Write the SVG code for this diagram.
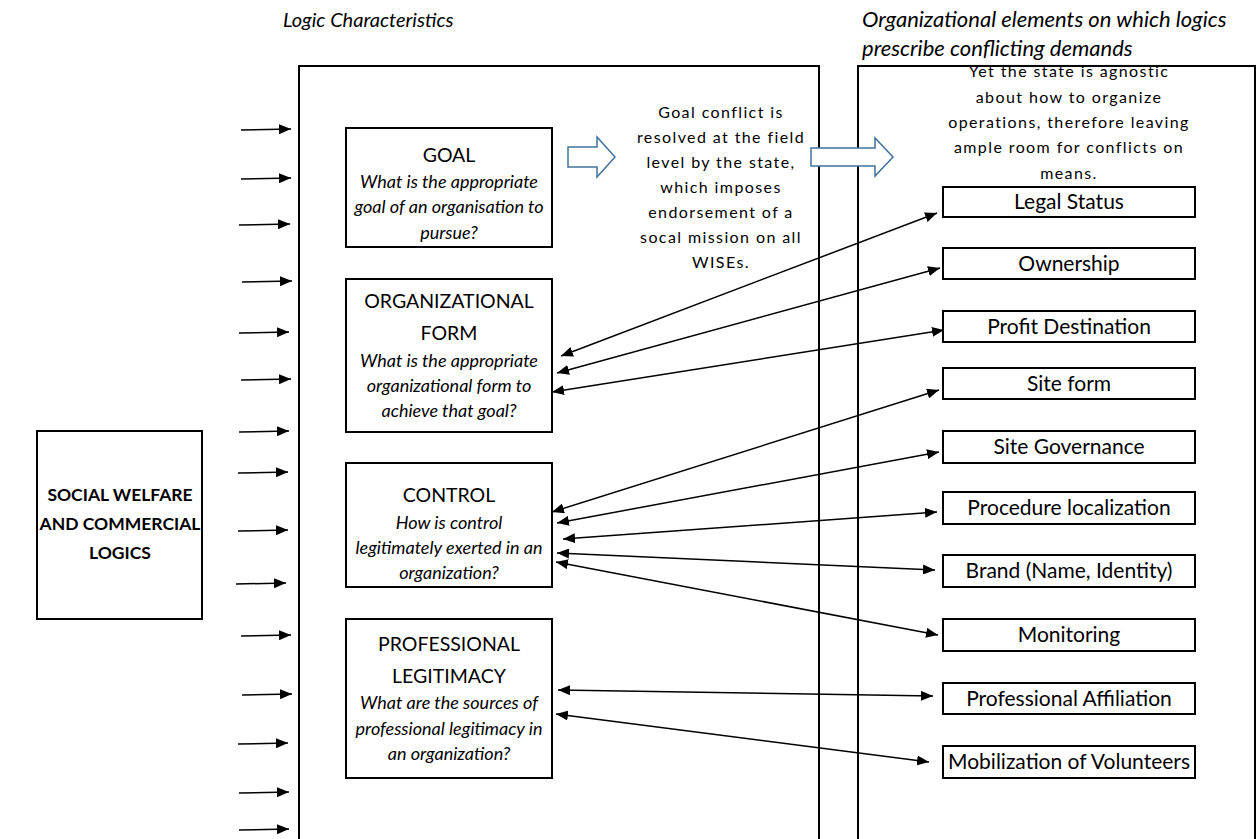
<svg xmlns="http://www.w3.org/2000/svg" width="1256" height="839" viewBox="0 0 1256 839">
<style>
text{font-family:Lato,"Liberation Sans",sans-serif;fill:#000}
.frame{fill:none;stroke:#000;stroke-width:2}
.box{fill:#fff;stroke:#000;stroke-width:2}
.head{font-style:italic}
.title{font-size:19.5px;text-anchor:middle}
.q{font-size:18px;font-style:italic;text-anchor:middle}
.el{font-size:21px;text-anchor:middle}
.note{font-size:16px;text-anchor:middle;letter-spacing:1.4px}
.in{stroke:#000;stroke-width:1.5;fill:none;marker-end:url(#ah)}
.dbl{stroke:#000;stroke-width:1.5;fill:none;marker-start:url(#ah);marker-end:url(#ah)}
.block{fill:#fff;stroke:#41719c;stroke-width:1.5}
</style>
<defs>
<marker id="ah" viewBox="0 0 12 10" markerWidth="12" markerHeight="10" markerUnits="userSpaceOnUse" refX="12" refY="5" orient="auto-start-reverse">
<path d="M0,0 L12,5 L0,10 z" fill="#000"/>
</marker>
</defs>
<rect width="1256" height="839" fill="#fff"/>

<g id="headings">
<text class="head" x="283" y="27" font-size="20">Logic Characteristics</text>
<text class="head" x="862" y="27" font-size="22">Organizational elements on which logics</text>
<text class="head" x="862" y="56" font-size="22">prescribe conflicting demands</text>
</g>

<g id="frames">
<path class="frame" d="M299,845 V66 H819 V845"/>
<path class="frame" d="M858,845 V66 H1255 V845"/>
</g>

<g id="social-welfare">
<rect class="box" x="37" y="431" width="165" height="188"/>
<text x="120" y="501" font-size="17.5" font-weight="bold" text-anchor="middle">SOCIAL WELFARE</text>
<text x="120" y="530" font-size="17.5" font-weight="bold" text-anchor="middle">AND COMMERCIAL</text>
<text x="120" y="559" font-size="17.5" font-weight="bold" text-anchor="middle">LOGICS</text>
</g>

<g id="goal">
<rect class="box" x="346" y="128" width="206" height="119"/>
<text class="title" x="449" y="162">GOAL</text>
<text class="q" x="449" y="188">What is the appropriate</text>
<text class="q" x="449" y="213">goal of an organisation to</text>
<text class="q" x="449" y="239">pursue?</text>
</g>

<g id="org-form">
<rect class="box" x="346" y="279" width="206" height="153"/>
<text class="title" x="449" y="308">ORGANIZATIONAL</text>
<text class="title" x="449" y="340">FORM</text>
<text class="q" x="449" y="367">What is the appropriate</text>
<text class="q" x="449" y="392">organizational form to</text>
<text class="q" x="449" y="417">achieve that goal?</text>
</g>

<g id="control">
<rect class="box" x="346" y="463" width="206" height="124"/>
<text class="title" x="449" y="502">CONTROL</text>
<text class="q" x="449" y="529">How is control</text>
<text class="q" x="449" y="554">legitimately exerted in an</text>
<text class="q" x="449" y="579">organization?</text>
</g>

<g id="professional">
<rect class="box" x="346" y="619" width="206" height="159"/>
<text class="title" x="449" y="651">PROFESSIONAL</text>
<text class="title" x="449" y="683">LEGITIMACY</text>
<text class="q" x="449" y="709">What are the sources of</text>
<text class="q" x="449" y="735">professional legitimacy in</text>
<text class="q" x="449" y="760">an organization?</text>
</g>

<g id="goal-note">
<text class="note" x="721" y="118">Goal conflict is</text>
<text class="note" x="721" y="143">resolved at the field</text>
<text class="note" x="721" y="168">level by the state,</text>
<text class="note" x="721" y="193">which imposes</text>
<text class="note" x="721" y="218">endorsement of a</text>
<text class="note" x="721" y="243">socal mission on all</text>
<text class="note" x="721" y="268">WISEs.</text>
</g>

<g id="state-note">
<text class="note" x="1069" y="77">Yet the state is agnostic</text>
<text class="note" x="1069" y="103">about how to organize</text>
<text class="note" x="1069" y="128">operations, therefore leaving</text>
<text class="note" x="1069" y="153">ample room for conflicts on</text>
<text class="note" x="1069" y="179">means.</text>
</g>

<g id="block-arrow-1">
<path class="block" d="M568,147 H597 V137 L615,157 L597,177 V167 H568 Z"/>
</g>
<g id="block-arrow-2">
<path class="block" d="M811,148 H875 V138 L893,157 L875,176 V166 H811 Z"/>
</g>

<g id="legal-status"><rect class="box" x="943" y="187" width="252" height="30"/><text class="el" x="1069" y="209">Legal Status</text></g>
<g id="ownership"><rect class="box" x="943" y="248" width="252" height="31"/><text class="el" x="1069" y="271">Ownership</text></g>
<g id="profit-destination"><rect class="box" x="943" y="311" width="252" height="31"/><text class="el" x="1069" y="334">Profit Destination</text></g>
<g id="site-form"><rect class="box" x="943" y="368" width="252" height="31"/><text class="el" x="1069" y="391">Site form</text></g>
<g id="site-governance"><rect class="box" x="943" y="431" width="252" height="32"/><text class="el" x="1069" y="454">Site Governance</text></g>
<g id="procedure-localization"><rect class="box" x="943" y="492" width="252" height="32"/><text class="el" x="1069" y="515">Procedure localization</text></g>
<g id="brand"><rect class="box" x="943" y="555" width="252" height="32"/><text class="el" x="1069" y="578">Brand (Name, Identity)</text></g>
<g id="monitoring"><rect class="box" x="943" y="619" width="252" height="32"/><text class="el" x="1069" y="642">Monitoring</text></g>
<g id="professional-affiliation"><rect class="box" x="943" y="683" width="252" height="31"/><text class="el" x="1069" y="706">Professional Affiliation</text></g>
<g id="mobilization"><rect class="box" x="943" y="746" width="252" height="32"/><text class="el" x="1069" y="769">Mobilization of Volunteers</text></g>

<g id="connectors">
<line class="in" x1="241" y1="130" x2="291" y2="129"/>
<line class="in" x1="241" y1="179" x2="291" y2="178"/>
<line class="in" x1="239" y1="225" x2="290" y2="224"/>
<line class="in" x1="242" y1="282" x2="292" y2="281"/>
<line class="in" x1="239" y1="333" x2="289" y2="332"/>
<line class="in" x1="241" y1="380" x2="291" y2="379"/>
<line class="in" x1="239" y1="432" x2="289" y2="431"/>
<line class="in" x1="238" y1="473" x2="288" y2="472"/>
<line class="in" x1="238" y1="531" x2="288" y2="530"/>
<line class="in" x1="236" y1="584" x2="286" y2="583"/>
<line class="in" x1="241" y1="636" x2="291" y2="635"/>
<line class="in" x1="242" y1="695" x2="292" y2="694"/>
<line class="in" x1="238" y1="744" x2="288" y2="743"/>
<line class="in" x1="239" y1="793" x2="289" y2="792"/>
<line class="in" x1="239" y1="830" x2="289" y2="829"/>

<line class="dbl" x1="561" y1="356" x2="937" y2="213"/>
<line class="dbl" x1="557" y1="373" x2="940" y2="268"/>
<line class="dbl" x1="552" y1="392" x2="944" y2="330"/>
<line class="dbl" x1="552" y1="512" x2="939" y2="390"/>
<line class="dbl" x1="557" y1="523" x2="939" y2="452"/>
<line class="dbl" x1="563" y1="539" x2="937" y2="512"/>
<line class="dbl" x1="557" y1="553" x2="935" y2="570"/>
<line class="dbl" x1="556" y1="562" x2="938" y2="635"/>
<line class="dbl" x1="558" y1="690" x2="933" y2="696"/>
<line class="dbl" x1="556" y1="714" x2="929" y2="762"/>
</g>
</svg>
